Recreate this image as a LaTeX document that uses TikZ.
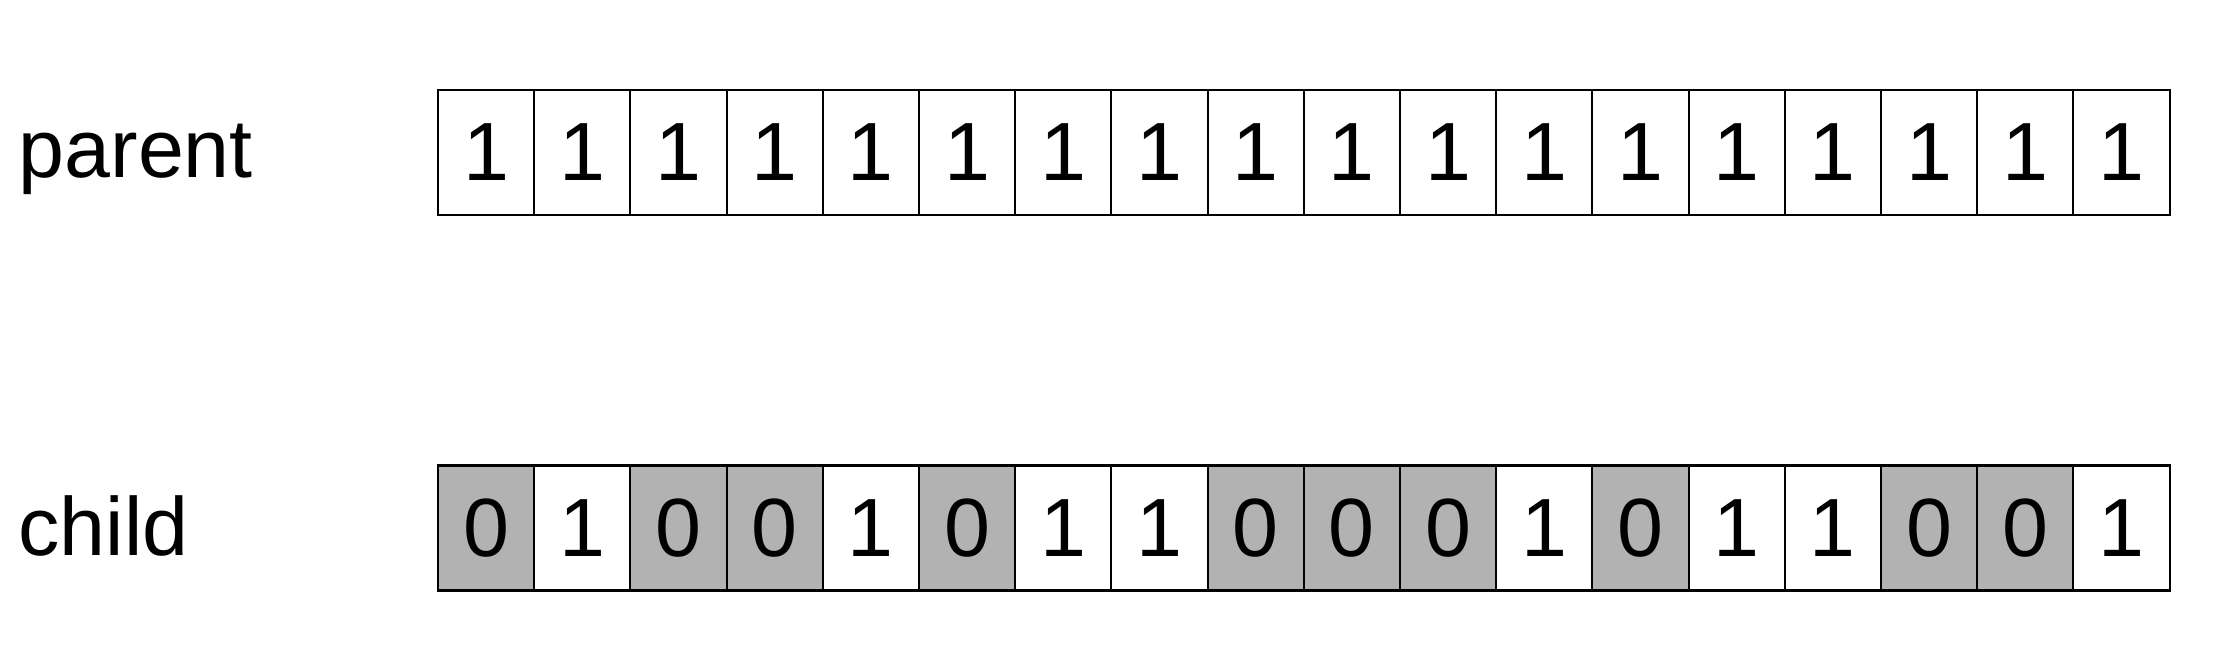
\documentclass[tikz,border=0pt]{standalone}
\usepackage{fontspec}
\setmainfont{Liberation Sans}
\definecolor{zerogray}{RGB}{178,178,178}
\begin{document}
\begin{tikzpicture}[
    cell/.style={
        draw,
        line width=0.6pt,
        minimum width=9.62mm,
        minimum height=12.5mm,
        inner sep=0pt,
        outer sep=0pt,
        font=\fontsize{23.5}{28}\selectfont
    },
    zero/.style={cell, fill=zerogray},
    one/.style={cell, fill=white},
    lbl/.style={anchor=base west, inner sep=0pt, font=\fontsize{23.5}{28}\selectfont}
]
    \useasboundingbox (0,0) rectangle (22.29,6.52);

    \node[lbl] (parentlbl) at (0.18,4.74) {parent};
    \node[lbl] (childlbl) at (0.18,0.97) {child};

    % parent row
    \foreach \i in {1,...,18}
        \node[one] (p\i) at ({4.38+0.962*(\i-0.5)},4.995) {1};

    % child row
    \foreach \b [count=\i] in {0,1,0,0,1,0,1,1,0,0,0,1,0,1,1,0,0,1} {
        \ifnum\b=0
            \node[zero] (c\i) at ({4.38+0.962*(\i-0.5)},1.24) {0};
        \else
            \node[one] (c\i) at ({4.38+0.962*(\i-0.5)},1.24) {1};
        \fi
    }
\end{tikzpicture}
\end{document}
